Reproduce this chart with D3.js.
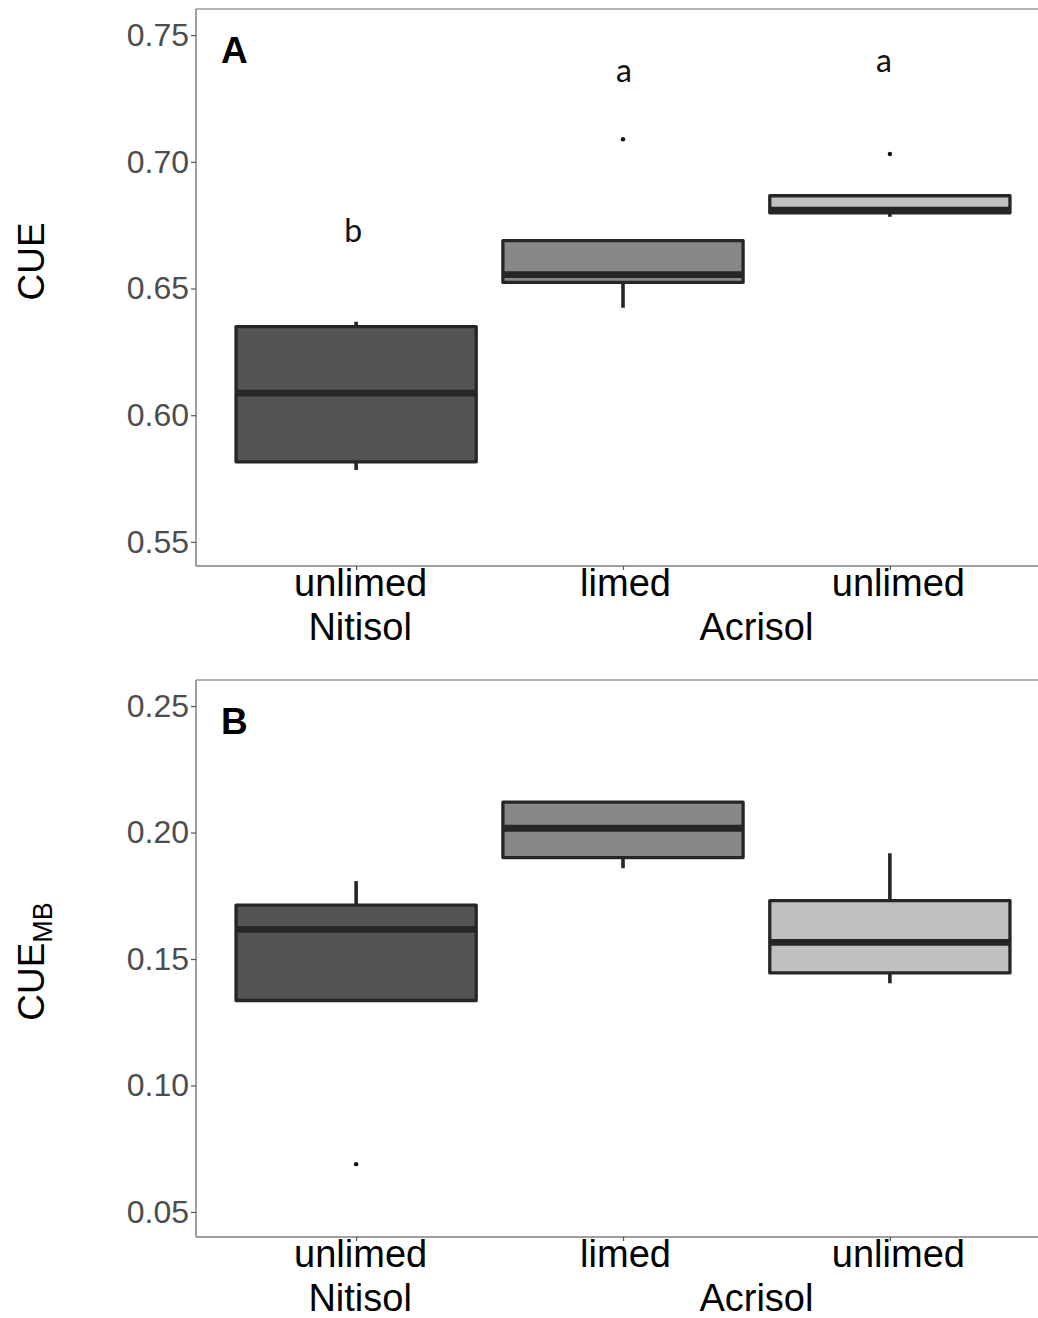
<!DOCTYPE html>
<html>
<head>
<meta charset="utf-8">
<script src="https://cdn.jsdelivr.net/npm/d3@7"></script>
<style>
  html, body { margin: 0; padding: 0; background: #ffffff; }
  svg { display: block; }
</style>
</head>
<body>
<svg id="chart" width="1038" height="1318"></svg>
<script>
// ---------- data ----------
const categories = ["unlimed", "limed", "unlimed"];
const soilGroups = ["Nitisol", "Acrisol"];
const soilMembers = [[0], [1, 2]];
const boxFills = ["#545454", "#888888", "#c0c0c0"];

// Panel A: CUE
const cueLow    = [0.5784, 0.6424, 0.6783];
const cueQ1     = [0.5816, 0.6524, 0.6799];
const cueMedian = [0.6087, 0.6555, 0.6809];
const cueQ3     = [0.6350, 0.6689, 0.6866];
const cueHigh   = [0.6369, 0.6689, 0.6866];
const cueOutliers = [[], [0.7089], [0.7031]];
const cueLetters = ["b", "a", "a"];
const cueLetterY = [0.6683, 0.7315, 0.7354];
const cueTicks = [0.55, 0.60, 0.65, 0.70, 0.75];
const cueDomain = [0.5405, 0.7603];

// Panel B: CUE_MB
const mbLow    = [0.1336, 0.1859, 0.1404];
const mbQ1     = [0.1336, 0.1901, 0.1445];
const mbMedian = [0.1617, 0.2017, 0.1566];
const mbQ3     = [0.1713, 0.2120, 0.1731];
const mbHigh   = [0.1808, 0.2120, 0.1918];
const mbOutliers = [[0.0689], [], []];
const mbTicks = [0.05, 0.10, 0.15, 0.20, 0.25];
const mbDomain = [0.0401, 0.2603];

// ---------- drawing ----------
const svg = d3.select("#chart");
svg.append("rect").attr("width", 1038).attr("height", 1318).attr("fill", "#fff");

const plotLeft = 196, plotRight = 1050;
const ink = "#262626";
const xLabelShift = [4, 2, 8];

function panel(opts) {
  const g = svg.append("g");
  const y = d3.scaleLinear().domain(opts.domain).range([opts.bottom, opts.top]);
  const x = d3.scalePoint().domain([0, 1, 2]).range([plotLeft, plotRight]).padding(0.6);
  const step = x.step();
  const bw = step * 0.9;

  // panel border (top line)
  g.append("line")
    .attr("x1", plotLeft).attr("x2", plotRight)
    .attr("y1", opts.top).attr("y2", opts.top)
    .attr("stroke", "#9a9a9a").attr("stroke-width", 1.4);

  // y axis
  const ya = g.append("g")
    .attr("transform", `translate(${plotLeft},0)`)
    .call(d3.axisLeft(y).tickValues(opts.ticks).tickFormat(d3.format(".2f")).tickSize(5).tickPadding(2));
  ya.select(".domain").attr("stroke", "#7f7f7f").attr("stroke-width", 1.5)
    .attr("d", `M0,${opts.top}V${opts.bottom}`);
  ya.selectAll(".tick line").attr("stroke", "#555").attr("stroke-width", 1.2);
  ya.selectAll(".tick text")
    .attr("fill", "#4d4d4d")
    .style("font-family", "'Liberation Sans', Arial, sans-serif")
    .style("font-size", "32px");

  // x axis
  const xa = g.append("g")
    .attr("transform", `translate(0,${opts.bottom})`)
    .call(d3.axisBottom(x).tickFormat(i => categories[i]).tickSize(4).tickPadding(0));
  xa.select(".domain").attr("stroke", "#7f7f7f").attr("stroke-width", 1.5)
    .attr("d", `M${plotLeft},0H${plotRight}`);
  xa.selectAll(".tick line").attr("stroke", "#555").attr("stroke-width", 1.2);
  xa.selectAll(".tick text")
    .attr("fill", "#000")
    .attr("y", 0).attr("dy", "0.78em")
    .attr("dx", i => xLabelShift[i])
    .style("font-family", "'Liberation Sans', Arial, sans-serif")
    .style("font-size", "38px");

  // soil group labels
  g.append("g").selectAll("text").data(soilGroups).join("text")
    .attr("x", (d, i) => d3.mean(soilMembers[i], k => x(k)) + (soilMembers[i].length === 1 ? 4 : 0))
    .attr("y", opts.bottom + 74)
    .attr("text-anchor", "middle")
    .attr("fill", "#000")
    .style("font-family", "'Liberation Sans', Arial, sans-serif")
    .style("font-size", "38px")
    .text(d => d);

  // boxes
  const idx = [0, 1, 2];
  const bg = g.append("g");
  bg.selectAll("line.wh-up").data(idx).join("line")
    .attr("class", "wh-up")
    .attr("x1", i => x(i)).attr("x2", i => x(i))
    .attr("y1", i => y(opts.q3[i])).attr("y2", i => y(opts.high[i]))
    .attr("stroke", ink).attr("stroke-width", 3.6);
  bg.selectAll("line.wh-lo").data(idx).join("line")
    .attr("class", "wh-lo")
    .attr("x1", i => x(i)).attr("x2", i => x(i))
    .attr("y1", i => y(opts.q1[i])).attr("y2", i => y(opts.low[i]))
    .attr("stroke", ink).attr("stroke-width", 3.6);
  bg.selectAll("rect").data(idx).join("rect")
    .attr("x", i => x(i) - bw / 2)
    .attr("width", bw)
    .attr("y", i => y(opts.q3[i]))
    .attr("height", i => y(opts.q1[i]) - y(opts.q3[i]))
    .attr("fill", i => boxFills[i])
    .attr("stroke", ink).attr("stroke-width", 3.3)
    .attr("stroke-linejoin", "round");
  bg.selectAll("line.med").data(idx).join("line")
    .attr("class", "med")
    .attr("x1", i => x(i) - bw / 2).attr("x2", i => x(i) + bw / 2)
    .attr("y1", i => y(opts.median[i])).attr("y2", i => y(opts.median[i]))
    .attr("stroke", ink).attr("stroke-width", 6.8);
  const outs = [];
  opts.outliers.forEach((arr, i) => arr.forEach(v => outs.push({ i, v })));
  bg.selectAll("circle").data(outs).join("circle")
    .attr("cx", d => x(d.i)).attr("cy", d => y(d.v)).attr("r", 2.2)
    .attr("fill", "#111");

  // significance letters
  if (opts.letters) {
    g.append("g").selectAll("text").data(idx).join("text")
      .attr("x", i => x(i) + [-3, 1, -6][i])
      .attr("y", i => y(opts.letterY[i]))
      .attr("text-anchor", "middle")
      .attr("fill", "#111")
      .style("font-family", "Lato, 'Open Sans', sans-serif")
      .style("font-size", "32px")
      .text(i => opts.letters[i]);
  }

  // panel tag
  g.append("text")
    .attr("x", 221).attr("y", opts.top + 54)
    .attr("fill", "#000")
    .style("font-family", "'Liberation Sans', Arial, sans-serif")
    .style("font-weight", "bold")
    .style("font-size", "37px")
    .text(opts.tag);

  // y title
  const cy = (opts.top + opts.bottom) / 2;
  const t = g.append("text")
    .attr("transform", `translate(44,${cy + opts.titleShift}) rotate(-90)`)
    .attr("text-anchor", "middle")
    .attr("fill", "#000")
    .style("font-family", "'Liberation Sans', Arial, sans-serif")
    .style("font-size", "37px");
  t.append("tspan").text(opts.title);
  if (opts.sub) {
    t.append("tspan").attr("dy", 8).style("font-size", "27px").text(opts.sub);
  }
}

panel({
  top: 9, bottom: 566, domain: cueDomain, ticks: cueTicks,
  low: cueLow, q1: cueQ1, median: cueMedian, q3: cueQ3, high: cueHigh,
  outliers: cueOutliers, letters: cueLetters, letterY: cueLetterY,
  tag: "A", title: "CUE", titleShift: -26
});
panel({
  top: 680, bottom: 1237, domain: mbDomain, ticks: mbTicks,
  low: mbLow, q1: mbQ1, median: mbMedian, q3: mbQ3, high: mbHigh,
  outliers: mbOutliers,
  tag: "B", title: "CUE", sub: "MB", titleShift: 3
});
</script>
</body>
</html>
